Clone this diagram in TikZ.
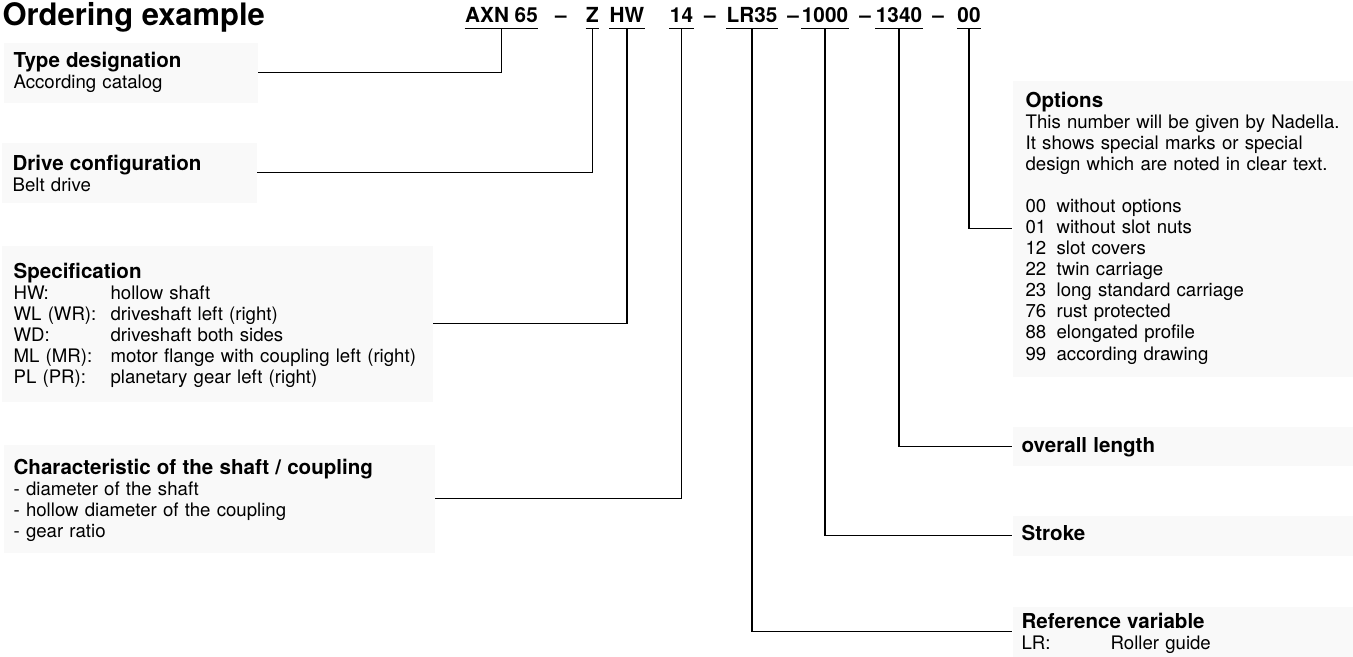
\documentclass[tikz,border=0pt]{standalone}
\usepackage{fontspec}
\setmainfont{TeX Gyre Heros}
\definecolor{boxgray}{gray}{0.975}
\newcommand{\hd}[1]{{\bfseries\fontsize{11.7pt}{12pt}\selectfont #1}}
\tikzset{
  infobox/.style={fill=boxgray,inner sep=0pt,anchor=north west},
  codetok/.style={inner sep=0pt,anchor=base,text depth=0pt,font=\bfseries\fontsize{11.8pt}{12pt}\selectfont},
  txt/.style={inner sep=0pt,anchor=base west,align=left,text width=6.4cm,font=\fontsize{10.6pt}{12pt}\selectfont},
}
\begin{document}
\begin{tikzpicture}[line width=0.7pt]
  \useasboundingbox (0,0) rectangle (27.06,13.12);

  % Titel
  \node[inner sep=0pt,anchor=base west,font=\bfseries\fontsize{17.6pt}{18pt}\selectfont] (title) at (0.04,12.6) {Ordering example};

  % Bestellschluessel
  \node[codetok] (axn)   at (10.03,12.66) {AXN 65};
  \node[codetok] (d1)    at (11.22,12.66) {–};
  \node[codetok] (zcode) at (11.85,12.66) {Z};
  \node[codetok] (hwcode) at (12.54,12.66) {HW};
  \node[codetok] (shaftcode) at (13.63,12.66) {14};
  \node[codetok] (d2)    at (14.20,12.66) {–};
  \node[codetok] (guidecode) at (15.04,12.66) {LR35};
  \node[codetok] (d3)    at (15.86,12.66) {–};
  \node[codetok] (strokecode) at (16.50,12.66) {1000};
  \node[codetok] (d4)    at (17.30,12.66) {–};
  \node[codetok] (lengthcode) at (17.98,12.66) {1340};
  \node[codetok] (d5)    at (18.76,12.66) {–};
  \node[codetok] (optcode) at (19.38,12.66) {00};

  \foreach \t in {axn,zcode,hwcode,shaftcode,guidecode,strokecode,lengthcode,optcode}
    \draw ([yshift=-1mm]\t.south west) -- ([yshift=-1mm]\t.south east);

  % Kaesten links
  \node[infobox,minimum width=5.08cm,minimum height=1.2cm] (typebox) at (0.06,12.28) {};
  \node[infobox,minimum width=5.10cm,minimum height=1.2cm] (drivebox) at (0.02,10.28) {};
  \node[infobox,minimum width=8.62cm,minimum height=3.12cm] (specbox) at (0.02,8.22) {};
  \node[infobox,minimum width=8.62cm,minimum height=2.16cm] (charbox) at (0.06,4.24) {};

  % Kaesten rechts
  \node[infobox,minimum width=6.82cm,minimum height=5.92cm] (optbox) at (20.24,11.52) {};
  \node[infobox,minimum width=6.82cm,minimum height=0.78cm] (lenbox) at (20.24,4.60) {};
  \node[infobox,minimum width=6.82cm,minimum height=0.80cm] (strokebox) at (20.24,2.82) {};
  \node[infobox,minimum width=6.82cm,minimum height=1.00cm] (refbox) at (20.24,1.00) {};

  % Texte
  \node[txt] (typetxt) at (0.26,11.78) {\hd{Type designation}\\According catalog};
  \node[txt] (drivetxt) at (0.24,9.72) {\hd{Drive configuration}\\Belt drive};
  \node[txt,text width=8.2cm] (spectxt) at (0.26,7.56) {\hd{Specification}\\
    \makebox[1.94cm][l]{HW:}hollow shaft\\
    \makebox[1.94cm][l]{WL (WR):}driveshaft left (right)\\
    \makebox[1.94cm][l]{WD:}driveshaft both sides\\
    \makebox[1.94cm][l]{ML (MR):}motor flange with coupling left (right)\\
    \makebox[1.94cm][l]{PL (PR):}planetary gear left (right)};
  \node[txt,text width=8.2cm] (chartxt) at (0.26,3.64) {\hd{Characteristic of the shaft / coupling}\\
    - diameter of the shaft\\
    - hollow diameter of the coupling\\
    - gear ratio};
  \node[txt] (opttxt) at (20.50,10.98) {\hd{Options}\\
    This number will be given by Nadella.\\
    It shows special marks or special\\
    design which are noted in clear text.\\[12pt]
    \makebox[0.62cm][l]{00}without options\\
    \makebox[0.62cm][l]{01}without slot nuts\\
    \makebox[0.62cm][l]{12}slot covers\\
    \makebox[0.62cm][l]{22}twin carriage\\
    \makebox[0.62cm][l]{23}long standard carriage\\
    \makebox[0.62cm][l]{76}rust protected\\
    \makebox[0.62cm][l]{88}elongated profile\\
    \makebox[0.62cm][l]{99}according drawing};
  \node[txt] (lentxt) at (20.42,4.08) {\hd{overall length}};
  \node[txt] (stroketxt) at (20.42,2.32) {\hd{Stroke}};
  \node[txt] (reftxt) at (20.42,0.56) {\hd{Reference variable}\\
    \makebox[1.78cm][l]{LR:}Roller guide};

  % Verbindungslinien
  \draw ([yshift=-1mm]axn.south) |- (typebox.east);
  \draw ([yshift=-1mm]zcode.south) |- (drivebox.east);
  \draw ([yshift=-1mm]hwcode.south) |- (specbox.east);
  \draw ([yshift=-1mm]shaftcode.south) |- (charbox.east);
  \draw ([yshift=-1mm]guidecode.south) |- (refbox.west);
  \draw ([yshift=-1mm]strokecode.south) |- (strokebox.west);
  \draw ([yshift=-1mm]lengthcode.south) |- (lenbox.west);
  \draw ([yshift=-1mm]optcode.south) |- (optbox.west);
\end{tikzpicture}
\end{document}
